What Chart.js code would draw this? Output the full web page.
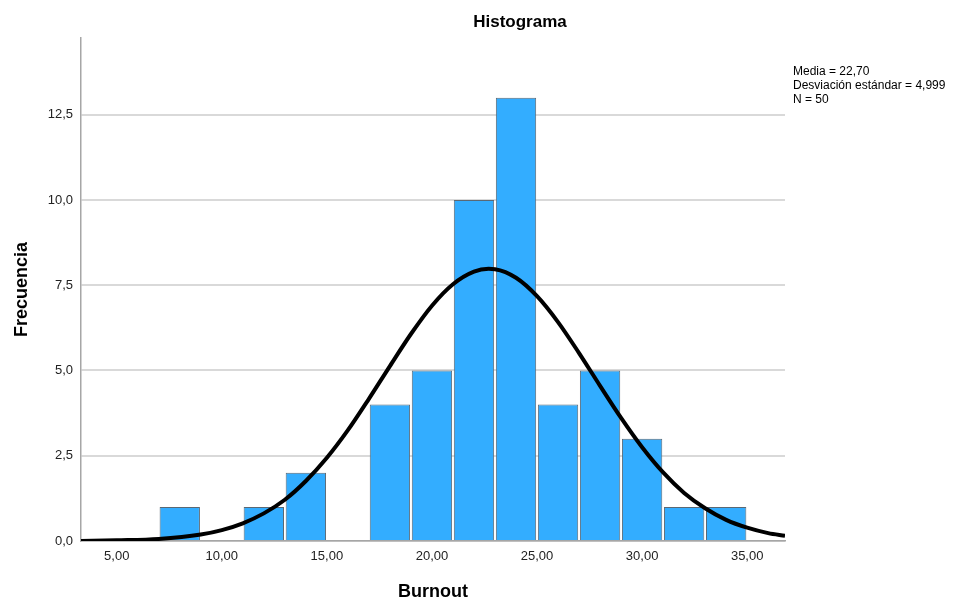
<!DOCTYPE html>
<html>
<head>
<meta charset="utf-8">
<title>Histograma</title>
<script src="https://cdn.jsdelivr.net/npm/chart.js@4.4.1/dist/chart.umd.min.js"></script>
<style>
    html, body { margin: 0; padding: 0; background: #ffffff; }
    canvas { display: block; }
</style>
</head>
<body>
<canvas id="myChart" width="968" height="601"></canvas>
<script>
// bin centres (bin width 2) and counts
var binCenters = [8, 10, 12, 14, 16, 18, 20, 22, 24, 26, 28, 30, 32, 34];
var binCounts  = [1, 0, 1, 2, 0, 4, 5, 10, 13, 4, 5, 3, 1, 1];

// normal curve, read at each unit
var curveX = [3.3, 5, 7, 9, 10, 11, 12, 13, 14, 15, 16, 17, 18, 19, 20, 21, 22, 22.7, 23, 24, 25, 26, 27, 28, 29, 30, 31, 32, 33, 34, 35, 36, 36.8];
var curveY = [0.00, 0.02, 0.06, 0.19, 0.32, 0.52, 0.81, 1.21, 1.76, 2.44, 3.25, 4.17, 5.13, 6.07, 6.90, 7.53, 7.90, 7.98, 7.97, 7.72, 7.18, 6.42, 5.51, 4.55, 3.61, 2.75, 2.01, 1.41, 0.96, 0.62, 0.39, 0.23, 0.15];

var xTicks = [5, 10, 15, 20, 25, 30, 35];
var yTicks = [0, 2.5, 5, 7.5, 10, 12.5];

var chartTitle = 'Histograma';
var statsLines = ['Media = 22,70', 'Desviación estándar = 4,999', 'N = 50'];

var FONT = "'Liberation Sans', Arial, sans-serif";

// title and the text block at the top right
var textPlugin = {
    id: 'extraText',
    afterDraw: function (chart) {
        var c = chart.ctx;
        c.save();
        c.fillStyle = '#000000';
        c.textBaseline = 'middle';

        c.font = 'bold 17px ' + FONT;
        c.textAlign = 'center';
        c.fillText(chartTitle, 520, 22);

        c.font = '12px ' + FONT;
        c.textAlign = 'left';
        for (var i = 0; i < statsLines.length; i++) {
            c.fillText(statsLines[i], 793, 72 + i * 14);
        }
        c.restore();
    }
};

document.addEventListener('DOMContentLoaded', function () {
    var barData = binCenters.map(function (x, i) { return { x: x, y: binCounts[i] }; });
    var lineData = curveX.map(function (x, i) { return { x: x, y: curveY[i] }; });

    var ctx = document.getElementById('myChart').getContext('2d');
    new Chart(ctx, {
        type: 'bar',
        data: {
            datasets: [
                {
                    type: 'line',
                    data: lineData,
                    borderColor: '#000000',
                    borderWidth: 4,
                    pointRadius: 0,
                    fill: false,
                    cubicInterpolationMode: 'monotone',
                    order: 0
                },
                {
                    type: 'bar',
                    data: barData,
                    backgroundColor: '#33adff',
                    borderColor: '#5a6874',
                    borderWidth: 1,
                    barPercentage: 0.96,
                    categoryPercentage: 1,
                    order: 1
                }
            ]
        },
        options: {
            responsive: false,
            animation: false,
            layout: { padding: { left: 0, right: 183, top: 38, bottom: 0 } },
            plugins: {
                legend: { display: false },
                tooltip: { enabled: false },
                title: { display: false }
            },
            scales: {
                x: {
                    type: 'linear',
                    min: 3.3,
                    max: 36.8,
                    offset: false,
                    afterBuildTicks: function (s) { s.ticks = xTicks.map(function (v) { return { value: v }; }); },
                    afterFit: function (s) { s.height = 60; },
                    grid: { display: false, drawTicks: false },
                    border: { display: true, color: '#a6a6a6', width: 1.5 },
                    ticks: {
                        color: '#222222',
                        padding: 8,
                        maxRotation: 0,
                        font: { family: FONT, size: 13 },
                        callback: function (v) { return v.toFixed(2).replace('.', ','); }
                    },
                    title: {
                        display: true,
                        text: 'Burnout',
                        color: '#000000',
                        font: { family: FONT, size: 18, weight: 'bold', lineHeight: 1 },
                        padding: { top: 0, bottom: 0 }
                    }
                },
                y: {
                    min: 0,
                    max: 14.75,
                    afterBuildTicks: function (s) { s.ticks = yTicks.map(function (v) { return { value: v }; }); },
                    afterFit: function (s) { s.width = 81; },
                    grid: { color: '#d9d9d9', lineWidth: 2, drawTicks: false },
                    border: { display: true, color: '#a6a6a6', width: 1.5 },
                    ticks: {
                        color: '#222222',
                        padding: 8,
                        font: { family: FONT, size: 13 },
                        callback: function (v) { return v.toFixed(1).replace('.', ','); }
                    },
                    title: {
                        display: true,
                        text: 'Frecuencia',
                        color: '#000000',
                        font: { family: FONT, size: 18, weight: 'bold', lineHeight: 1.2 },
                        padding: { top: 11, bottom: 4 }
                    }
                }
            }
        },
        plugins: [textPlugin]
    });
});
</script>
</body>
</html>
